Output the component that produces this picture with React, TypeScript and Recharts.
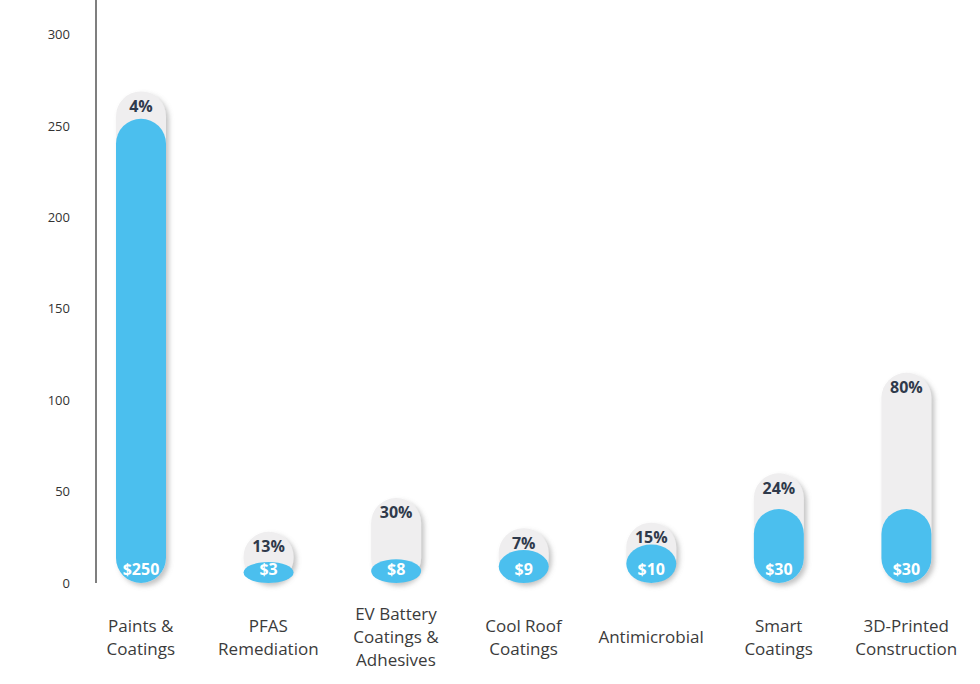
import { BarChart, Bar, XAxis, YAxis, LabelList } from 'recharts'

const categories = [
  'Paints &\nCoatings',
  'PFAS\nRemediation',
  'EV Battery\nCoatings &\nAdhesives',
  'Cool Roof\nCoatings',
  'Antimicrobial',
  'Smart\nCoatings',
  '3D-Printed\nConstruction',
]
const marketSize = [250, 3, 8, 9, 10, 30, 30]
const growthRate = [4, 13, 30, 7, 15, 24, 80]
// pill heights as drawn against the y axis
const sizePill = [254, 11.5, 13, 18, 21, 40.5, 40.5]
const growthPill = [269, 28, 46.5, 30, 33, 60, 115]
const yTicks = [0, 50, 100, 150, 200, 250, 300]

const data = categories.map((name, i) => ({
  name,
  size: marketSize[i],
  growth: growthRate[i],
  sizePill: sizePill[i],
  growthPill: growthPill[i],
}))

const FONT = '"Open Sans", "Noto Sans", sans-serif'

function Pill(props: any) {
  const { x, y, width, height, fill, shadow } = props
  if (!height || height <= 0) return null
  const rx = width / 2
  const ry = Math.min(width / 2, height / 2)
  return (
    <rect
      x={x}
      y={y}
      width={width}
      height={height}
      rx={rx}
      ry={ry}
      fill={fill}
      filter={shadow ? 'url(#pillShadow)' : undefined}
    />
  )
}

function CategoryTick({ x, y, payload }: any) {
  const lines = String(payload.value).split('\n')
  const first = 45 - ((lines.length - 1) * 23) / 2
  return (
    <g transform={`translate(${x},${y})`}>
      <text textAnchor="middle" fill="#3b3b3b" fontSize={17} fontFamily={FONT} dominantBaseline="central">
        {lines.map((l, i) => (
          <tspan key={i} x={0} y={first + i * 23}>
            {l}
          </tspan>
        ))}
      </text>
    </g>
  )
}

export default function App() {
  return (
    <div style={{ position: 'absolute', left: 0, top: 0, width: 980, height: 684, background: '#fff', fontFamily: FONT }}>
      <BarChart
        width={980}
        height={684}
        data={data}
        margin={{ top: 0, right: 10, bottom: 71, left: 0 }}
        barSize={50}
        barGap={-50}
      >
        <defs>
          <filter id="pillShadow" x="-30%" y="-30%" width="170%" height="170%">
            <feDropShadow dx={3} dy={3} stdDeviation={2.5} floodColor="#7a7a7a" floodOpacity={0.45} />
          </filter>
        </defs>
        <XAxis
          dataKey="name"
          axisLine={false}
          tickLine={false}
          interval={0}
          padding={{ left: -19, right: 0 }}
          tick={<CategoryTick />}
        />
        <YAxis
          width={96}
          domain={[0, 319]}
          ticks={yTicks}
          tickLine={false}
          tickMargin={20}
          axisLine={{ stroke: '#555', strokeWidth: 1.5 }}
          tick={{ fill: '#333', fontSize: 13, fontFamily: FONT }}
        />
        <Bar dataKey="growthPill" fill="#efeeef" isAnimationActive={false} shape={<Pill shadow />}>
          <LabelList
            dataKey="growth"
            position="insideTop"
            offset={9}
            formatter={(v: any) => `${v}%`}
            fill="#2f3a4b"
            fontSize={16}
            fontWeight={700}
            fontFamily={FONT}
          />
        </Bar>
        <Bar dataKey="sizePill" fill="#4bbfee" isAnimationActive={false} shape={<Pill />}>
          <LabelList
            dataKey="size"
            position="insideBottom"
            offset={8}
            formatter={(v: any) => `$${v}`}
            fill="#ffffff"
            fontSize={16}
            fontWeight={700}
            fontFamily={FONT}
          />
        </Bar>
      </BarChart>
    </div>
  )
}
